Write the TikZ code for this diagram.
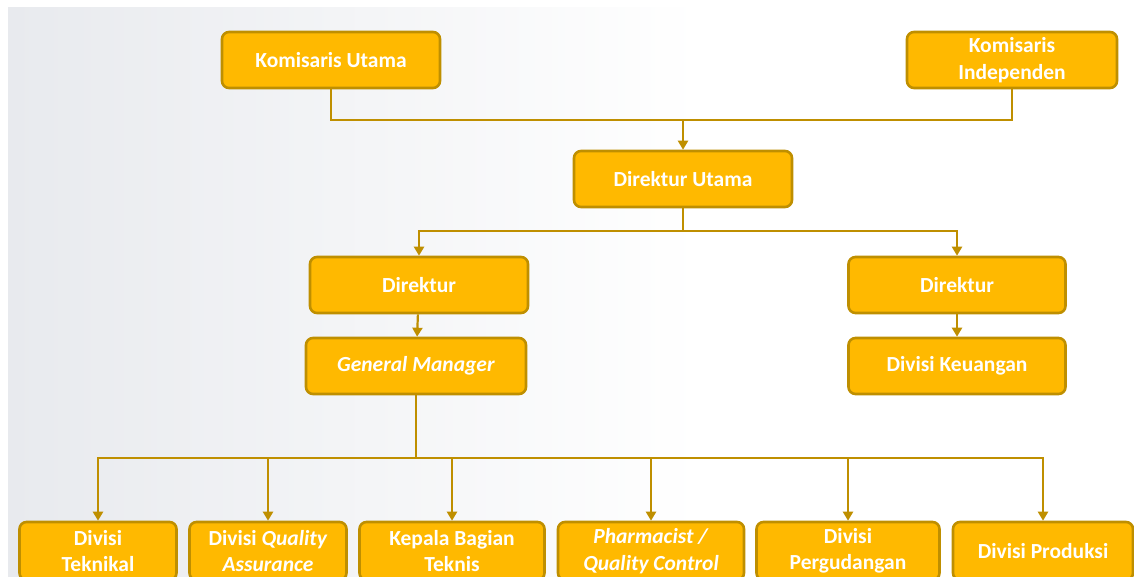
\documentclass[tikz,border=0pt]{standalone}
\usepackage{fontspec}
\setmainfont{Carlito}
\usetikzlibrary{arrows.meta}
\definecolor{kuning}{RGB}{255,185,0}
\definecolor{emas}{RGB}{191,143,0}
\definecolor{abu}{RGB}{232,234,238}
\tikzset{
  jabatan/.style={draw=emas, line width=2.6pt, fill=kuning, rounded corners=7pt,
    minimum height=56pt, align=center, text=white, inner sep=2pt,
    font=\bfseries\fontsize{21.5}{26.5}\selectfont},
  garis/.style={draw=emas, line width=2.2pt},
  panah/.style={garis, -{Triangle[length=9pt,width=10pt]}}
}
\begin{document}
\begin{tikzpicture}[x=1pt,y=-1pt]
      \useasboundingbox (0,0) rectangle (1134,577);
      \clip (0,0) rectangle (1134,577);
      \shade[left color=abu, right color=white] (8,8) rectangle (700,577);
      \draw
        (331,60) node[jabatan, minimum width=218pt] (ku){Komisaris Utama}
        (1012,60) node[jabatan, minimum width=210pt] (ki){Komisaris\\Independen}
        (683,179) node[jabatan, minimum width=218pt] (du){Direktur Utama}
        (419,285) node[jabatan, minimum width=218pt] (dir1){Direktur}
        (957,285) node[jabatan, minimum width=217pt] (dir2){Direktur}
        (416,366) node[jabatan, minimum width=220pt] (gm){\textit{General Manager}}
        (957,366) node[jabatan, minimum width=217pt] (keu){Divisi Keuangan}
        (98,551) node[jabatan, minimum width=157pt, minimum height=58pt] (tek){Divisi\\Teknikal}
        (268,551) node[jabatan, minimum width=157pt, minimum height=58pt] (qa){Divisi \textit{Quality}\\\textit{Assurance}}
        (452,551) node[jabatan, minimum width=185pt, minimum height=58pt] (kbt){Kepala Bagian\\Teknis}
        (651,551) node[jabatan, minimum width=186pt, minimum height=58pt] (qc){\textit{Pharmacist /}\\\textit{Quality Control}}
        (848,551) node[jabatan, minimum width=183pt, minimum height=58pt] (gud){Divisi\\Pergudangan}
        (1043,551) node[jabatan, minimum width=180pt, minimum height=58pt] (prod){Divisi Produksi};
      \coordinate (temu) at (683,120);
      \coordinate (cabang) at (683,231);
      \coordinate (bagi) at (416,458);
      \begin{scope}[garis]
        \draw (ku) |- (temu) -| (ki);
        \draw (du) -- (cabang);
        \draw (gm) -- (bagi);
      \end{scope}
      \begin{scope}[panah]
        \draw (temu) -- (du);
        \draw (cabang) -| (dir1);
        \draw (cabang) -| (dir2);
        \draw (dir1) -- (gm);
        \draw (dir2) -- (keu);
        \foreach \b in {tek,qa,kbt,qc,gud,prod}
          \draw (bagi) -| (\b);
      \end{scope}
    \end{tikzpicture}
\end{document}
